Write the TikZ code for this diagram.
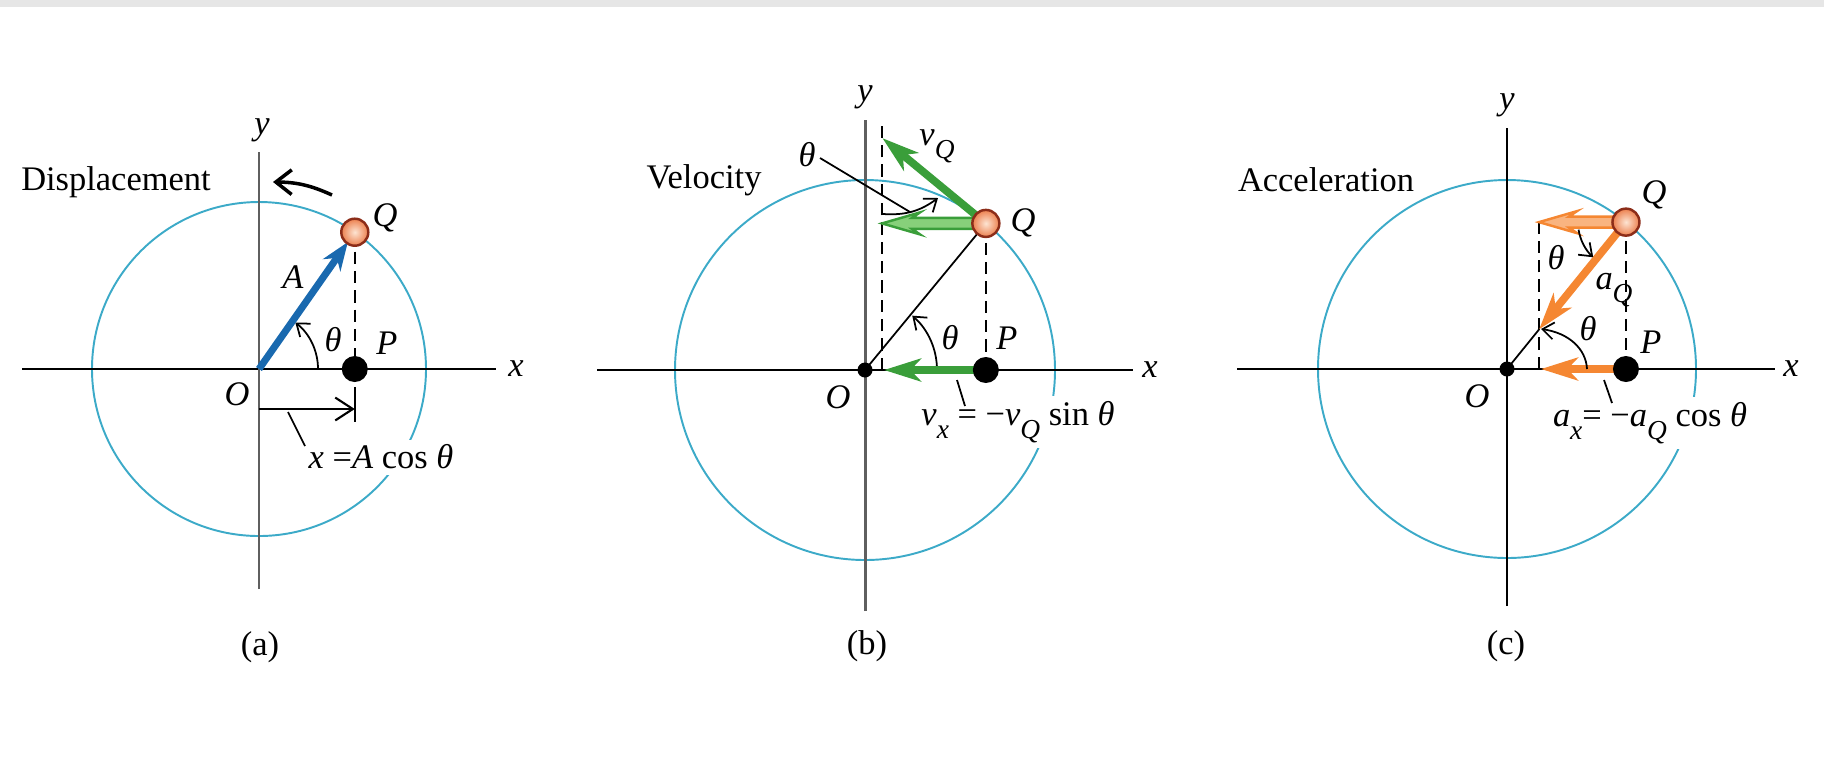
\documentclass[tikz,border=0pt]{standalone}
\usepackage{fontspec}
\setmainfont{Liberation Serif}
\usetikzlibrary{arrows.meta,calc}
\definecolor{orbitc}{RGB}{60,170,200}
\definecolor{vecblue}{RGB}{25,105,175}
\definecolor{vgreen}{RGB}{58,158,58}
\definecolor{vgreenlt}{RGB}{135,208,122}
\definecolor{aorange}{RGB}{245,135,50}
\definecolor{aorangelt}{RGB}{249,180,128}
\definecolor{ballin}{RGB}{253,228,210}
\definecolor{ballout}{RGB}{236,128,78}
\definecolor{ballrim}{RGB}{140,45,25}
\definecolor{topband}{RGB}{230,230,230}
\definecolor{axisgray}{RGB}{95,95,95}
\newcommand{\sbs}[1]{\raisebox{-0.8ex}{\fontsize{7.8}{8}\selectfont\textit{#1}}}
\newcommand{\hollowarr}[3]{%
  \filldraw[#3] (#2) -- ($(#2)+(38,11)$) -- ($(#2)+(30,5.5)$) -- ($(#1)+(0,5.5)$) -- ($(#1)+(0,-5.5)$) -- ($(#2)+(30,-5.5)$) -- ($(#2)+(38,-11)$) -- cycle;}
\begin{document}
\begin{tikzpicture}[x=0.01cm, y=0.01cm, font=\fontsize{9.8}{11.5}\selectfont,
 orbit/.style={draw=orbitc, line width=0.55pt},
 yax/.style={draw=axisgray, line width=0.85pt},
 yaxk/.style={draw=black, line width=0.75pt},
 xax/.style={draw=black, line width=0.75pt},
 dashln/.style={line width=0.55pt, dash pattern=on 3.5pt off 2pt},
 thinln/.style={line width=0.5pt},
 thinarr/.style={line width=0.5pt, -{Straight Barb[length=3.2pt,width=4.8pt]}},
 bigarr/.style={line width=2.2pt, -{Stealth[length=10.5pt,width=6.5pt,inset=3pt]}},
 ball/.style={circle, inner sep=0pt, minimum size=0.27cm, draw=ballrim, line width=0.7pt, inner color=ballin, outer color=ballout},
 dotP/.style={circle, fill=black, inner sep=0pt, minimum size=0.26cm},
 dotO/.style={circle, fill=black, inner sep=0pt, minimum size=0.15cm},
 lbl/.style={inner sep=1pt},
 cutlbl/.style={fill=white, inner sep=1.5pt},
 greenhollow/.style={draw=vgreen, fill=vgreenlt, line width=0.7pt},
 orangehollow/.style={draw=aorange, fill=aorangelt, line width=0.7pt}]
\useasboundingbox (0,0) rectangle (1824,759);
\fill[topband] (0,752) rectangle (1824,759);

% ---------------- panel (a)
\begin{scope}[shift={(259,390)}]
\coordinate (Oa) at (0,0);
\coordinate (Qa) at (55:167);
\coordinate (Pa) at (Qa |- Oa);
\coordinate (Ta) at ($(Pa)+(0,-27)$);
\coordinate (Ba) at ($(Pa)+(0,-53)$);
\coordinate (Sa) at (0,-40);
\coordinate (Ea) at (Pa |- Sa);
\coordinate (ca1) at (73,174);
\coordinate (ca2) at (14,187);
\coordinate (la1) at (29,-43);
\coordinate (la2) at (46,-77);
\draw[orbit] (Oa) circle[radius=167];
\draw[xax] (-237,0) -- (237,0);
\draw[yax] (0,-220) -- (0,217);
\node[lbl] (xa) at (257,0) {\textit{x}};
\node[lbl] (ya) at (3,239) {\textit{y}};
\node[lbl] (da) at (-143,187) {Displacement};
\draw[line width=1pt, -{Straight Barb[length=4.5pt,width=7pt]}] (ca1) to[bend right=12] (ca2);
\draw[dashln] (Qa) -- (Ta);
\draw[thinln] (Ta) -- (Ba);
\draw[line width=0.6pt, -{Straight Barb[length=5pt,width=6.5pt]}] (Sa) -- (Ea);
\draw[thinarr] (59,0) arc[start angle=0,end angle=52,radius=59];
\draw[line width=2pt, draw=vecblue, -{Stealth[length=8pt,width=6pt,inset=2.5pt]}, shorten >=0.12cm] (Oa) -- (Qa);
\node[lbl] (tha) at (74,29) {\textit{θ}};
\node[lbl] (Aa) at (34,92) {\textit{A}};
\node[lbl] (Qla) at (126,151) {\textit{Q}};
\node[lbl] (Pla) at (128,26) {\textit{P}};
\node[lbl] (Ola) at (-22,-25) {\textit{O}};
\node[cutlbl] (fa) at (122,-88) {\textit{x} =\textit{A} cos \textit{θ}};
\draw[thinln] (la1) -- (la2);
\node[dotP] (Pda) at (Pa) {};
\node[ball] (Qba) at (Qa) {};
\node (capa) at (1,-278) {(a)};
\end{scope}

% ---------------- panel (b)
\begin{scope}[shift={(865,389)}]
\coordinate (Ob) at (0,0);
\coordinate (Qb) at (50.5:190);
\coordinate (Pb) at (Qb |- Ob);
\coordinate (Db0) at (17,0);
\coordinate (Db) at (17,248);
\coordinate (hb) at (Db0 |- Qb);
\coordinate (vQtip) at ($(Qb)+(140.5:134)$);
\coordinate (vxtip) at (19,0);
\coordinate (tb1) at (18,156);
\coordinate (tb2) at (73,172);
\coordinate (lt1) at (-45,212);
\coordinate (lt2) at (45,158);
\coordinate (lb1) at (92,-10);
\coordinate (lb2) at (100,-36);
\draw[orbit] (Ob) circle[radius=190];
\draw[xax] (-268,0) -- (268,0);
\draw[yax] (0,-241) -- (0,250);
\node[lbl] (xb) at (285,0) {\textit{x}};
\node[lbl] (yb) at (0,273) {\textit{y}};
\node[lbl] (vel) at (-161,190) {Velocity};
\draw[dashln] (Db0) -- (Db);
\draw[dashln] (Qb) -- (Pb);
\draw[thinln] (Ob) -- (Qb);
\draw[thinarr] (72,0) arc[start angle=0,end angle=49,radius=72];
\hollowarr{Qb}{hb}{greenhollow}
\draw[bigarr, draw=vgreen] (Qb) -- (vQtip);
\draw[bigarr, draw=vgreen] (Pb) -- (vxtip);
\draw[thinln] (lt1) -- (lt2);
\draw[thinarr] (tb1) to[bend right=20] (tb2);
\node[lbl] (thb) at (85,32) {\textit{θ}};
\node[lbl] (Plb) at (142,32) {\textit{P}};
\node[lbl] (Qlb) at (158,147) {\textit{Q}};
\node[lbl] (vQl) at (72,224) {\textit{v}\sbs{Q}};
\node[lbl] (thtb) at (-58,215) {\textit{θ}};
\node[lbl] (Olb) at (-27,-27) {\textit{O}};
\node[cutlbl] (fb) at (153,-52) {\textit{v}\sbs{x} = −\textit{v}\sbs{Q} sin \textit{θ}};
\draw[thinln] (lb1) -- (lb2);
\node[dotO] (Odb) at (Ob) {};
\node[dotP] (Pdb) at (Pb) {};
\node[ball] (Qbb) at (Qb) {};
\node (capb) at (2,-276) {(b)};
\end{scope}

% ---------------- panel (c)
\begin{scope}[shift={(1507,390)}]
\coordinate (Oc) at (0,0);
\coordinate (Qc) at (51:189);
\coordinate (Pc) at (Qc |- Oc);
\coordinate (Dc0) at (32,0);
\coordinate (hc) at (Dc0 |- Qc);
\coordinate (aQtip) at ($(Qc)+(231:138)$);
\coordinate (axtip) at (34,0);
\coordinate (ac1) at (80,0);
\coordinate (ac2) at (34,40);
\coordinate (lc1) at (97,-11);
\coordinate (lc2) at (105,-34);
\draw[orbit] (Oc) circle[radius=189];
\draw[xax] (-270,0) -- (268,0);
\draw[yaxk] (0,-237) -- (0,241);
\node[lbl] (xc) at (284,0) {\textit{x}};
\node[lbl] (yc) at (0,264) {\textit{y}};
\node[lbl] (acc) at (-181,189) {Acceleration};
\draw[dashln] (Dc0) -- (hc);
\draw[dashln] (Qc) -- (Pc);
\draw[thinln] (Oc) -- (aQtip);
\hollowarr{Qc}{hc}{orangehollow}
\draw[bigarr, draw=aorange] (Qc) -- (aQtip);
\draw[bigarr, draw=aorange] (Pc) -- (axtip);
\draw[thinarr] ($(Qc)+(189:48)$) arc[start angle=189,end angle=227,radius=48];
\draw[thinarr] (ac1) .. controls (79,20) and (62,36) .. (ac2);
\node[lbl] (thtc) at (49,111) {\textit{θ}};
\node[lbl] (thc) at (81,40) {\textit{θ}};
\node[lbl] (aQl) at (107,79) {\textit{a}\sbs{Q}};
\node[lbl] (Plc) at (144,27) {\textit{P}};
\node[lbl] (Qlc) at (147,174) {\textit{Q}};
\node[lbl] (Olc) at (-30,-27) {\textit{O}};
\node[cutlbl] (fc) at (143,-54) {\textit{a}\sbs{x}= −\textit{a}\sbs{Q} cos \textit{θ}};
\draw[thinln] (lc1) -- (lc2);
\node[dotO] (Odc) at (Oc) {};
\node[dotP] (Pdc) at (Pc) {};
\node[ball] (Qbc) at (Qc) {};
\node (capc) at (-1,-277) {(c)};
\end{scope}
\end{tikzpicture}
\end{document}
